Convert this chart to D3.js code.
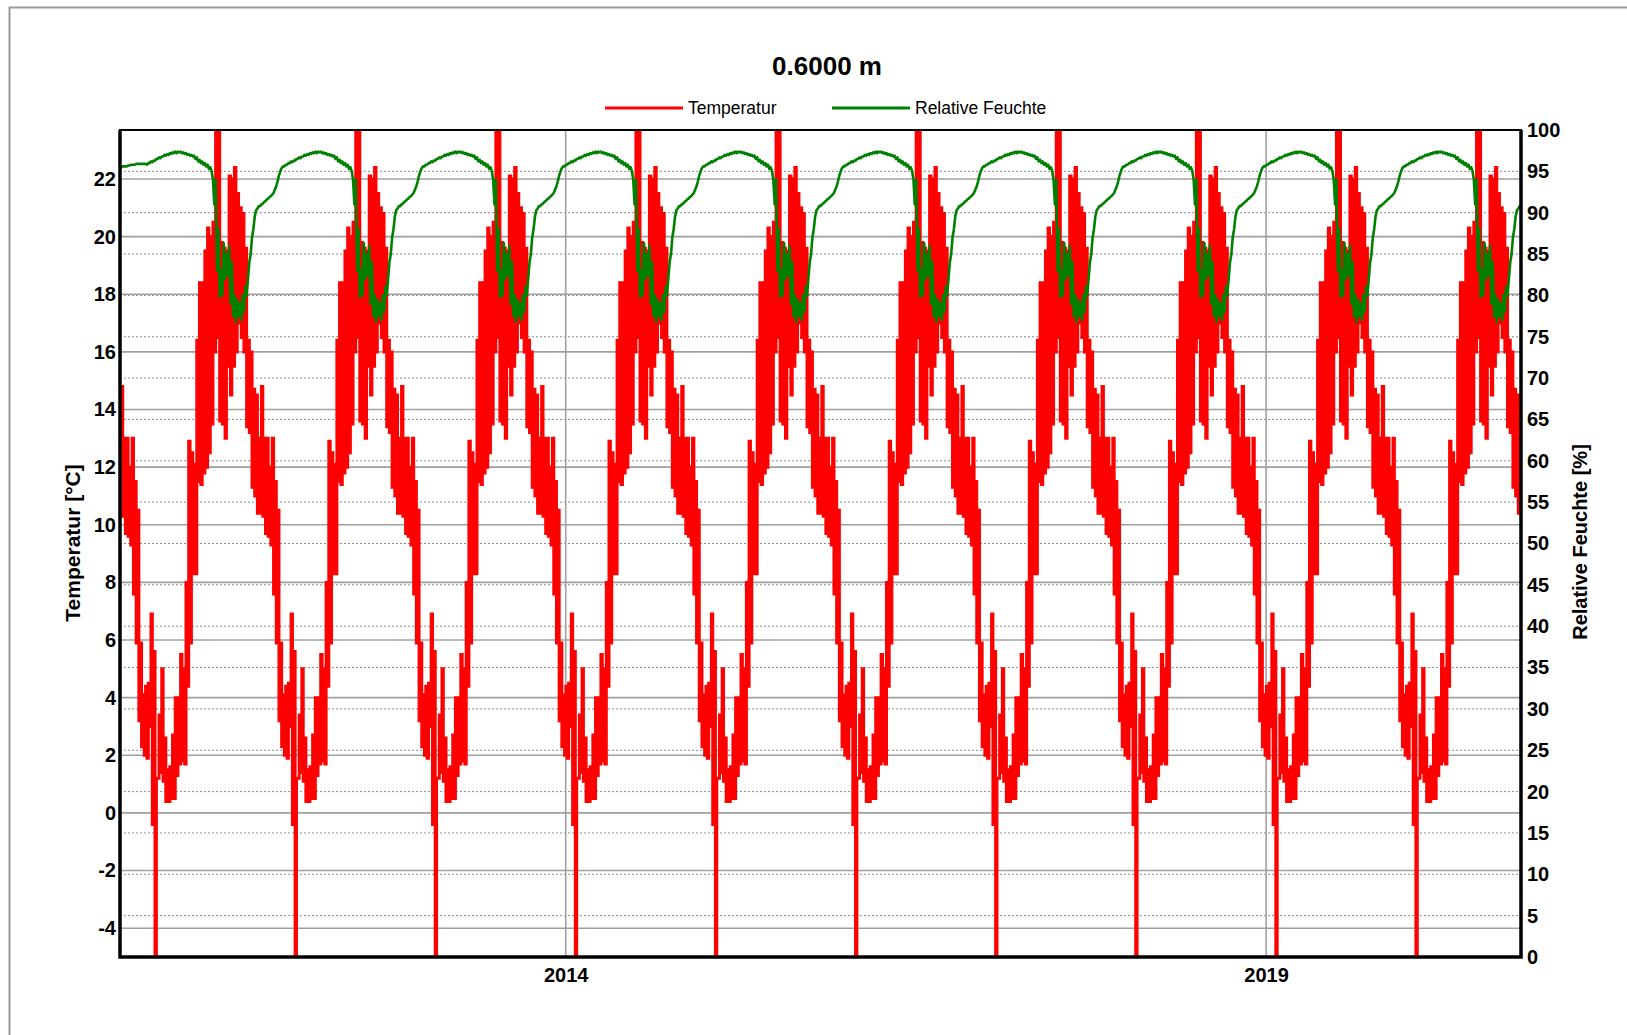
<!DOCTYPE html>
<html>
<head>
<meta charset="utf-8">
<script src="https://cdn.jsdelivr.net/npm/d3@7"></script>
<style>
  body { margin: 0; background: #fff; }
  text { font-family: "Liberation Sans", Arial, sans-serif; }
</style>
</head>
<body>
<svg id="chart"></svg>
<script>
const title = "0.6000 m";
const seriesNames = ["Temperatur", "Relative Feuchte"];
const axisTitles = ["Temperatur [°C]", "Relative Feuchte [%]"];

// simulation starts late October, same climate year repeated
const startDate = "2010-10-27";
const cycleYears = [2010, 2011, 2012, 2013, 2014, 2015, 2016, 2017, 2018, 2019];
const yearTicks = ["2014-01-01", "2019-01-01"];
const tempTicks = [-4, -2, 0, 2, 4, 6, 8, 10, 12, 14, 16, 18, 20, 22];
const rhTicks = [0, 5, 10, 15, 20, 25, 30, 35, 40, 45, 50, 55, 60, 65, 70, 75, 80, 85, 90, 95, 100];

// weekly low / high of temperature over one cycle [°C]
const tempLow = [10.4, 10.3, 9.7, 9.6, 9.3, 7.6, 5.9, 3.2, 2.3, 2.0, 1.9, 3.0, -0.4, -5.0, 1.2, 1.4, 1.1, 0.4, 0.4, 0.5,
  0.5, 1.3, 1.7, 1.8, 1.7, 4.4, 5.9, 8.3, 8.3, 11.5, 11.4, 11.8, 12.0, 12.5, 13.5, 16.0, 16.5, 13.6, 13.5, 13.0,
  15.5, 14.5, 15.5, 16.0, 17.0, 16.5, 16.0, 13.4, 13.2, 11.3, 11.0, 10.4];
const tempHigh = [14.8, 13.0, 13.0, 12.0, 13.0, 11.5, 10.5, 5.9, 4.1, 4.4, 4.5, 6.9, 5.6, 1.2, 3.4, 5.0, 2.6, 1.5, 1.6, 2.7,
  4.0, 4.0, 5.5, 5.0, 8.0, 12.9, 12.5, 12.1, 16.4, 18.4, 18.4, 19.5, 20.3, 20.0, 20.5, 23.7, 23.7, 19.8, 19.6, 19.5,
  22.1, 22.0, 22.4, 21.5, 21.0, 20.8, 19.6, 16.4, 16.0, 14.7, 14.5, 13.0];

// weekly low / high of relative humidity over one cycle [%]
const rhLow = [90.8, 91.1, 91.4, 91.7, 92.0, 92.4, 93.2, 94.5, 95.4, 95.6, 95.8, 96.0, 96.1, 96.3, 96.5, 96.6, 96.8, 96.9, 97.0, 97.1,
  97.2, 97.2, 97.3, 97.2, 97.1, 97.0, 96.9, 96.8, 96.5, 96.2, 96.0, 95.8, 95.6, 95.3, 95.0, 91.0, 83.0, 79.8, 80.0, 82.0,
  82.5, 79.0, 77.5, 76.8, 77.5, 77.0, 78.0, 80.0, 84.0, 87.0, 89.5, 90.5];
const rhHigh = [91.0, 91.3, 91.6, 91.9, 92.2, 92.8, 93.8, 95.0, 95.6, 95.8, 96.0, 96.2, 96.3, 96.5, 96.7, 96.8, 97.0, 97.1, 97.2, 97.3,
  97.4, 97.4, 97.4, 97.3, 97.2, 97.1, 97.0, 96.9, 96.7, 96.4, 96.2, 96.0, 95.8, 95.5, 94.0, 94.0, 88.0, 83.0, 86.3, 85.0,
  86.0, 84.0, 80.0, 79.5, 79.0, 80.0, 81.0, 82.0, 85.0, 88.0, 90.3, 90.8];
// first weeks of the first year (initial condition)
const rhFirstWeeks = [95.5, 95.6, 95.6, 95.7, 95.8, 95.8, 95.9, 95.9, 95.9, 95.9];

const width = 1627;
const height = 1035;
const margin = { top: 130, right: 106, bottom: 78, left: 120 };
const yearMs = 365.25 * 864e5;
const t0 = new Date(startDate + "T00:00:00").getTime();
const atCycle = (c) => new Date(t0 + c * yearMs);

const x = d3.scaleTime()
  .domain([atCycle(0), atCycle(cycleYears.length)])
  .range([margin.left, width - margin.right]);
const yT = d3.scaleLinear().domain([-5, 23.7]).range([height - margin.bottom, margin.top]);
const yR = d3.scaleLinear().domain([0, 100]).range([height - margin.bottom, margin.top]);

function buildSeries(lo, hi, first) {
  const n = lo.length;
  const pts = [];
  cycleYears.forEach((_, i) => {
    for (let k = 0; k < n; k++) {
      let a = lo[k], b = hi[k];
      if (first && i === 0 && k < first.length) { a = first[k]; b = first[k]; }
      pts.push({ date: atCycle(i + k / n), v: a });
      pts.push({ date: atCycle(i + (k + 0.5) / n), v: b });
    }
  });
  pts.push({ date: atCycle(cycleYears.length), v: hi[n - 1] });
  return pts;
}

const tempData = buildSeries(tempLow, tempHigh, null);
const rhData = buildSeries(rhLow, rhHigh, rhFirstWeeks);

const svg = d3.select("#chart").attr("width", width).attr("height", height);

// outer frame (cut by the image edge)
svg.append("path")
  .attr("d", `M9.5,${height}V7.5H${width}`)
  .attr("fill", "none").attr("stroke", "#9a9a9a").attr("stroke-width", 2);

svg.append("defs").append("clipPath").attr("id", "plot")
  .append("rect")
  .attr("x", margin.left).attr("y", margin.top)
  .attr("width", width - margin.left - margin.right)
  .attr("height", height - margin.top - margin.bottom);

const grid = svg.append("g");
grid.selectAll(".rh-grid")
  .data(rhTicks.filter((d) => d > 0 && d < 100))
  .enter().append("line")
  .attr("x1", margin.left).attr("x2", width - margin.right)
  .attr("y1", (d) => yR(d)).attr("y2", (d) => yR(d))
  .attr("stroke", "#8c8c8c").attr("stroke-width", 1).attr("stroke-dasharray", "2,2");
grid.selectAll(".t-grid")
  .data(tempTicks)
  .enter().append("line")
  .attr("x1", margin.left).attr("x2", width - margin.right)
  .attr("y1", (d) => yT(d)).attr("y2", (d) => yT(d))
  .attr("stroke", "#a0a0a0").attr("stroke-width", 1.6);
grid.selectAll(".x-grid")
  .data(yearTicks.map((d) => new Date(d + "T00:00:00")))
  .enter().append("line")
  .attr("x1", (d) => x(d)).attr("x2", (d) => x(d))
  .attr("y1", margin.top).attr("y2", height - margin.bottom)
  .attr("stroke", "#a0a0a0").attr("stroke-width", 1.6);

const plot = svg.append("g").attr("clip-path", "url(#plot)");

plot.append("path")
  .datum(tempData)
  .attr("fill", "none").attr("stroke", "#ff0000").attr("stroke-width", 3)
  .attr("d", d3.line().x((d) => x(d.date)).y((d) => yT(d.v)).curve(d3.curveStepAfter));

plot.append("path")
  .datum(rhData)
  .attr("fill", "none").attr("stroke", "#008000").attr("stroke-width", 2.6)
  .attr("stroke-linejoin", "round")
  .attr("d", d3.line().x((d) => x(d.date)).y((d) => yR(d.v)));

// plot border
svg.append("rect")
  .attr("x", margin.left).attr("y", margin.top)
  .attr("width", width - margin.left - margin.right)
  .attr("height", height - margin.top - margin.bottom)
  .attr("fill", "none").attr("stroke", "#000").attr("stroke-width", 2);
svg.append("path")
  .attr("d", `M${margin.left},${margin.top}V${height - margin.bottom}H${width - margin.right}V${margin.top}`)
  .attr("fill", "none").attr("stroke", "#000").attr("stroke-width", 3.5);

// axes
const styleAxis = (g) => {
  g.select(".domain").remove();
  g.selectAll("text").attr("font-size", 20).attr("font-weight", "bold").attr("fill", "#000")
    .style("font-family", "'Liberation Sans', Arial, sans-serif");
};

svg.append("g")
  .attr("transform", `translate(${margin.left},0)`)
  .call(d3.axisLeft(yT).tickValues(tempTicks).tickFormat((d) => String(d)).tickSize(0).tickPadding(4))
  .call(styleAxis);

svg.append("g")
  .attr("transform", `translate(${width - margin.right},0)`)
  .call(d3.axisRight(yR).tickValues(rhTicks).tickFormat((d) => String(d)).tickSize(0).tickPadding(6))
  .call(styleAxis);

svg.append("g")
  .attr("transform", `translate(0,${height - margin.bottom})`)
  .call(d3.axisBottom(x)
    .tickValues(yearTicks.map((d) => new Date(d + "T00:00:00")))
    .tickFormat(d3.timeFormat("%Y"))
    .tickSize(0).tickPadding(11))
  .call(styleAxis);

// axis titles
svg.append("text")
  .attr("transform", "translate(80,543) rotate(-90)")
  .attr("text-anchor", "middle")
  .attr("font-size", 21).attr("font-weight", "bold")
  .text(axisTitles[0]);

svg.append("text")
  .attr("transform", "translate(1587,542) rotate(-90)")
  .attr("text-anchor", "middle")
  .attr("font-size", 20).attr("font-weight", "bold")
  .text(axisTitles[1]);

// title
svg.append("text")
  .attr("x", 827).attr("y", 75)
  .attr("text-anchor", "middle")
  .attr("font-size", 26).attr("font-weight", "bold")
  .text(title);

// legend
const legend = [
  { name: seriesNames[0], color: "#ff0000", x: 605 },
  { name: seriesNames[1], color: "#008000", x: 832 }
];
const lg = svg.append("g");
lg.selectAll("line")
  .data(legend)
  .enter().append("line")
  .attr("x1", (d) => d.x).attr("x2", (d) => d.x + 78)
  .attr("y1", 108).attr("y2", 108)
  .attr("stroke", (d) => d.color).attr("stroke-width", 3);
lg.selectAll("text")
  .data(legend)
  .enter().append("text")
  .attr("x", (d) => d.x + 83).attr("y", 114)
  .attr("font-size", 17.5)
  .text((d) => d.name);
</script>
</body>
</html>
